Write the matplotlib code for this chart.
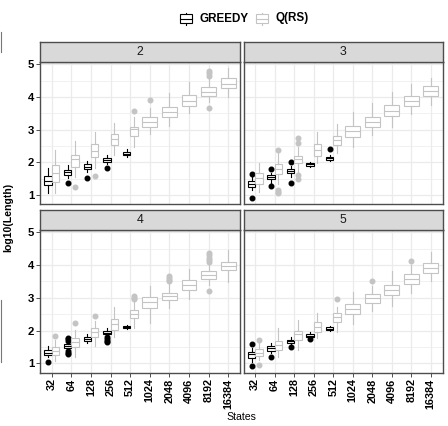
import numpy as np
import matplotlib.pyplot as plt
from matplotlib.patches import Rectangle
from matplotlib.lines import Line2D

plt.rcParams['font.family'] = ['Liberation Sans', 'DejaVu Sans']

W, H = 448, 426

states = ['32', '64', '128', '256', '512', '1024', '2048', '4096', '8192', '16384']
panels = ['2', '3', '4', '5']

# box stats per state: (whisker low, q1, median, q3, whisker high)
greedy_stats = {
    '2': [(1.05, 1.31, 1.44, 1.58, 1.82), (1.51, 1.61, 1.69, 1.77, 1.92),
          (1.71, 1.80, 1.87, 1.94, 2.05), (1.95, 2.02, 2.07, 2.13, 2.22),
          (2.15, 2.21, 2.27, 2.32, 2.40)],
    '3': [(1.15, 1.26, 1.34, 1.43, 1.56), (1.38, 1.48, 1.55, 1.61, 1.68),
          (1.56, 1.66, 1.73, 1.80, 1.89), (1.85, 1.89, 1.94, 1.98, 2.02),
          (2.05, 2.08, 2.12, 2.16, 2.21)],
    '4': [(1.20, 1.26, 1.33, 1.41, 1.53), (1.43, 1.48, 1.53, 1.59, 1.66),
          (1.61, 1.69, 1.74, 1.80, 1.90), (1.84, 1.89, 1.94, 1.99, 2.07),
          (2.04, 2.07, 2.11, 2.14, 2.18)],
    '5': [(1.05, 1.18, 1.28, 1.36, 1.46), (1.33, 1.39, 1.46, 1.53, 1.63),
          (1.56, 1.63, 1.68, 1.73, 1.80), (1.77, 1.80, 1.85, 1.90, 1.96),
          (1.99, 2.02, 2.06, 2.10, 2.14)],
}
greedy_fliers = {
    '2': [[], [1.36], [1.51], [1.84], []],
    '3': [[1.64, 0.90], [1.80, 1.29], [2.00, 1.36], [], [2.41]],
    '4': [[1.05], [1.79, 1.74, 1.69, 1.37, 1.31, 1.28], [], [1.80, 1.74, 1.68, 1.65], []],
    '5': [[1.58, 0.93], [1.20], [1.49], [1.75], []],
}
qrs_stats = {
    '2': [(1.07, 1.41, 1.68, 1.93, 2.38), (1.56, 1.85, 2.09, 2.22, 2.65),
          (1.82, 2.15, 2.35, 2.55, 2.94), (2.23, 2.54, 2.70, 2.87, 3.19),
          (2.48, 2.81, 3.01, 3.09, 3.40), (2.86, 3.07, 3.24, 3.40, 3.65),
          (3.11, 3.38, 3.55, 3.70, 4.13), (3.50, 3.73, 3.89, 4.05, 4.47),
          (3.86, 4.04, 4.16, 4.29, 4.57), (4.01, 4.26, 4.41, 4.57, 4.88)],
    '3': [(1.10, 1.34, 1.51, 1.68, 1.97), (1.34, 1.64, 1.79, 1.94, 2.28),
          (1.71, 1.97, 2.09, 2.19, 2.48), (1.97, 2.20, 2.38, 2.55, 2.94),
          (2.28, 2.53, 2.68, 2.81, 3.17), (2.46, 2.79, 2.97, 3.11, 3.55),
          (2.84, 3.07, 3.24, 3.40, 3.83), (3.09, 3.42, 3.58, 3.74, 4.16),
          (3.48, 3.72, 3.88, 4.03, 4.40), (3.76, 4.03, 4.19, 4.34, 4.57)],
    '4': [(1.08, 1.26, 1.38, 1.49, 1.71), (1.20, 1.51, 1.66, 1.77, 2.02),
          (1.53, 1.82, 1.97, 2.07, 2.30), (1.82, 2.02, 2.19, 2.35, 2.71),
          (2.07, 2.38, 2.51, 2.63, 2.89), (2.22, 2.68, 2.86, 3.02, 3.35),
          (2.68, 2.94, 3.06, 3.16, 3.45), (2.96, 3.24, 3.40, 3.55, 3.88),
          (3.40, 3.58, 3.70, 3.81, 4.01), (3.47, 3.84, 3.96, 4.09, 4.45)],
    '5': [(1.10, 1.22, 1.33, 1.43, 1.61), (1.20, 1.41, 1.55, 1.69, 2.07),
          (1.41, 1.73, 1.89, 2.00, 2.33), (1.77, 1.97, 2.12, 2.28, 2.53),
          (1.97, 2.28, 2.43, 2.55, 2.73), (2.20, 2.51, 2.66, 2.82, 3.19),
          (2.61, 2.84, 2.99, 3.12, 3.35), (2.76, 3.09, 3.24, 3.40, 3.83),
          (3.14, 3.43, 3.57, 3.72, 4.01), (3.50, 3.76, 3.91, 4.06, 4.40)],
}
qrs_fliers = {
    '2': [[], [1.23], [1.58], [], [3.58], [3.91], [], [], [4.65, 4.72, 4.78, 3.66], []],
    '3': [[], [2.38, 1.15, 1.10, 1.05], [2.73, 2.58, 1.61, 1.48], [], [], [], [], [], [], []],
    '4': [[1.84], [2.22], [2.45], [], [3.06, 3.01, 2.96], [],
          [3.67, 3.62, 3.56, 3.50], [], [4.37, 4.30, 4.22, 4.15, 4.08, 3.22], []],
    '5': [[1.73, 0.95], [], [], [], [2.97], [], [3.53], [], [4.11], []],
}

greedy_col = 'black'
qrs_col = '#c4c4c4'
border_col = '#4d4d4d'
grid_col = '#ebebeb'


def fig_rect(left, top, right, bottom):
    return [left / W, 1 - bottom / H, (right - left) / W, (bottom - top) / H]


def draw_boxes(ax, stats, fliers, positions, width, color):
    bx = []
    for s, f in zip(stats, fliers):
        bx.append(dict(whislo=s[0], q1=s[1], med=s[2], q3=s[3], whishi=s[4], fliers=f))
    ax.bxp(bx, positions=positions, widths=width, patch_artist=True, showcaps=False,
           manage_ticks=False,
           boxprops=dict(facecolor='white', edgecolor=color, linewidth=0.8),
           medianprops=dict(color=color, linewidth=0.8),
           whiskerprops=dict(color=color, linewidth=0.8),
           flierprops=dict(marker='o', markerfacecolor=color, markeredgecolor=color,
                           markersize=3.3, linestyle='none'))


fig = plt.figure(figsize=(W / 100, H / 100), dpi=100)

cols = [(40, 240), (243.5, 442.5)]
rows = [(41.7, 62, 204), (210, 230, 372.5)]

for k, p in enumerate(panels):
    r, c = divmod(k, 2)
    left, right = cols[c]
    s_top, top, bottom = rows[r]

    ax = fig.add_axes(fig_rect(left, top, right, bottom))
    ax.set_xlim(0.4, 10.6)
    ax.set_ylim(0.725, 5.07)
    ax.set_axisbelow(True)

    n_g = len(greedy_stats[p])
    x = np.arange(1, len(states) + 1, dtype=float)
    draw_boxes(ax, greedy_stats[p], greedy_fliers[p], x[:n_g] - 0.1875, 0.375, greedy_col)
    q_pos = x.copy()
    q_pos[:n_g] += 0.1875
    q_w = [0.375] * n_g + [0.75] * (len(states) - n_g)
    draw_boxes(ax, qrs_stats[p], qrs_fliers[p], q_pos, q_w, qrs_col)

    ax.set_xticks(x)
    ax.set_yticks([1, 2, 3, 4, 5])
    ax.set_yticks([1.5, 2.5, 3.5, 4.5], minor=True)
    ax.grid(True, which='major', color=grid_col, linewidth=0.9)
    ax.grid(True, which='minor', axis='y', color=grid_col, linewidth=0.5)
    ax.tick_params(which='minor', length=0)
    ax.tick_params(which='major', length=2.7, width=0.6, color='#333333', pad=1.5)
    for sp in ax.spines.values():
        sp.set_color(border_col)
        sp.set_linewidth(1.0)

    if r == 1:
        ax.set_xticklabels(states, rotation=90, fontsize=7.8, fontweight='bold', va='top')
    else:
        ax.set_xticklabels([])
        ax.tick_params(axis='x', length=0)
    if c == 0:
        ax.set_yticklabels(['1', '2', '3', '4', '5'], fontsize=8.2, fontweight='bold')
    else:
        ax.set_yticklabels([])
        ax.tick_params(axis='y', length=0)

    sax = fig.add_axes(fig_rect(left, s_top, right, top))
    sax.set_facecolor('#d9d9d9')
    sax.set_xticks([])
    sax.set_yticks([])
    for sp in sax.spines.values():
        sp.set_color(border_col)
        sp.set_linewidth(1.0)
    sax.text(0.5, 0.5, p, ha='center', va='center', fontsize=8.8, color='#1a1a1a',
             transform=sax.transAxes)

fig.text(8.5 / W, 1 - 217 / H, 'log10(Length)', rotation=90, ha='center', va='center',
         fontsize=7.6, fontweight='bold')
fig.text(241 / W, 1 - 417 / H, 'States', ha='center', va='center', fontsize=7.6)

# legend
legend_items = [('GREEDY', greedy_col, 180, 199.5), ('Q(RS)', qrs_col, 256, 275)]
for label, col, x0, tx in legend_items:
    xc = x0 + 5.8
    fig.add_artist(Line2D([xc / W, xc / W], [1 - 12.5 / H, 1 - 24.5 / H], color=col,
                          linewidth=0.8, transform=fig.transFigure, zorder=2))
    fig.add_artist(Rectangle((x0 / W, 1 - 22.5 / H), 11.6 / W, 8 / H, facecolor='white',
                             edgecolor=col, linewidth=0.8, transform=fig.transFigure,
                             zorder=3))
    fig.add_artist(Line2D([x0 / W, (x0 + 11.6) / W], [1 - 18.5 / H, 1 - 18.5 / H], color=col,
                          linewidth=0.8, transform=fig.transFigure, zorder=4))
    fig.text(tx / W, 1 - 18.5 / H, label, ha='left', va='center', fontsize=8.4,
             fontweight='bold')

# cropped edge of a neighbouring figure
for y0, y1 in [(32, 52), (300, 362)]:
    fig.add_artist(Line2D([1 / W, 1 / W], [1 - y0 / H, 1 - y1 / H], color='#777777',
                          linewidth=0.8, transform=fig.transFigure))

fig.savefig('out.png', dpi=100)
